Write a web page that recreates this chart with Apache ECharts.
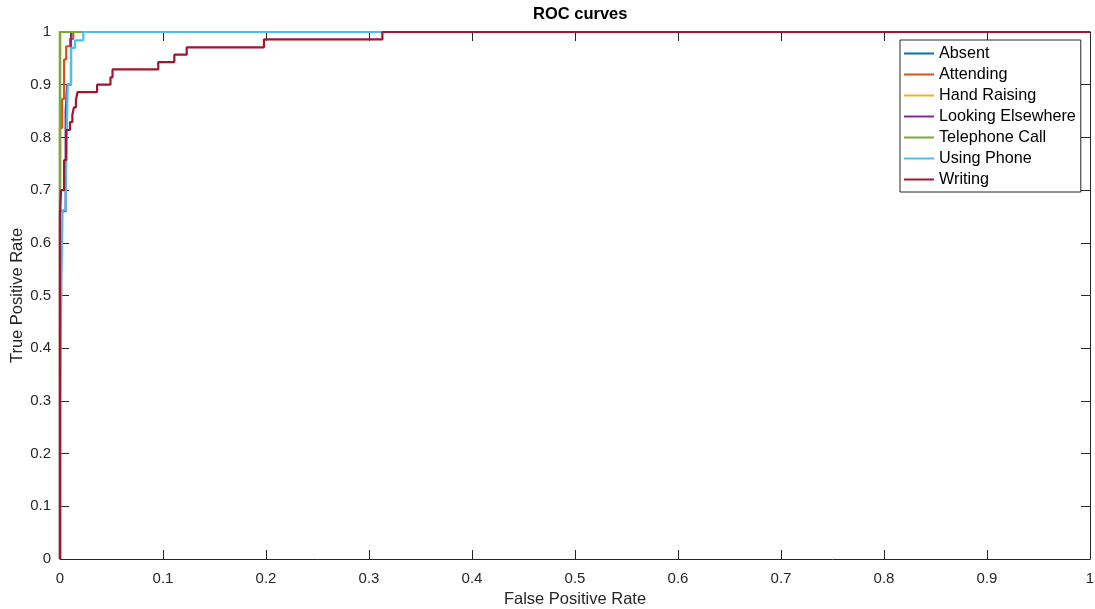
<!DOCTYPE html>
<html>
<head>
<meta charset="utf-8">
<title>ROC curves</title>
<script src="https://cdn.jsdelivr.net/npm/echarts@6/dist/echarts.min.js"></script>
<style>
  html, body { margin: 0; padding: 0; background: #fff; }
  #main { width: 1095px; height: 609px; }
</style>
</head>
<body>
<div id="main"></div>
<script>
// class names in legend order
var classNames = ['Absent', 'Attending', 'Hand Raising', 'Looking Elsewhere', 'Telephone Call', 'Using Phone', 'Writing'];
var classColors = ['#0072BD', '#D95319', '#EDB120', '#7E2F8E', '#77AC30', '#4DBEEE', '#A2142F'];

// ROC points (false positive rate / true positive rate)
var absentFpr = [0, 0, 1];
var absentTpr = [0, 1, 1];

var attendingFpr = [0, 0, 0.002, 0.002, 0.004, 0.004, 0.006, 0.006, 0.0097, 0.0097, 0.0129, 0.0129, 1];
var attendingTpr = [0, 0.818, 0.818, 0.873, 0.873, 0.948, 0.948, 0.973, 0.973, 0.987, 0.987, 1, 1];

var handRaisingFpr = [0, 0, 1];
var handRaisingTpr = [0, 1, 1];

var lookingFpr = [0, 0, 0.0055, 0.0055, 0.007, 0.007, 0.0107, 0.0107, 1];
var lookingTpr = [0, 0.66, 0.66, 0.85, 0.85, 0.9, 0.9, 1, 1];

var telephoneFpr = [0, 0, 1];
var telephoneTpr = [0, 1, 1];

var phoneFpr = [0, 0, 0.0015, 0.0015, 0.0025, 0.0025, 0.0055, 0.0055, 0.0065, 0.0065, 0.0075, 0.0075, 0.0107, 0.0107, 0.0146, 0.0146, 0.0226, 0.0226, 1];
var phoneTpr = [0, 0.30, 0.30, 0.54, 0.54, 0.662, 0.662, 0.678, 0.678, 0.805, 0.805, 0.90, 0.90, 0.97, 0.97, 0.984, 0.984, 1, 1];

var writingFpr = [0, 0, 0.001, 0.001, 0.004, 0.004, 0.006, 0.006, 0.0097, 0.0097, 0.012, 0.012, 0.0135, 0.0135, 0.0155, 0.0155, 0.017, 0.017,
    0.036, 0.036, 0.049, 0.049, 0.051, 0.051, 0.0954, 0.0954, 0.111, 0.111, 0.123, 0.123, 0.198, 0.198, 0.313, 0.313, 1];
var writingTpr = [0, 0.657, 0.657, 0.700, 0.700, 0.757, 0.757, 0.814, 0.814, 0.829, 0.829, 0.843, 0.843, 0.857, 0.857, 0.871, 0.871, 0.886,
    0.886, 0.900, 0.900, 0.914, 0.914, 0.929, 0.929, 0.943, 0.943, 0.957, 0.957, 0.971, 0.971, 0.986, 0.986, 1, 1];

var allFpr = [absentFpr, attendingFpr, handRaisingFpr, lookingFpr, telephoneFpr, phoneFpr, writingFpr];
var allTpr = [absentTpr, attendingTpr, handRaisingTpr, lookingTpr, telephoneTpr, phoneTpr, writingTpr];

function zip(xs, ys) {
    var out = [];
    for (var i = 0; i < xs.length; i++) {
        out.push([xs[i], ys[i]]);
    }
    return out;
}

var chart = echarts.init(document.getElementById('main'), null, { renderer: 'canvas' });

var axisColor = '#262626';
var fontFamily = 'Liberation Sans, Arial, sans-serif';

function valueAxis(pos, showLabels, name) {
    var isY = (pos === 'left' || pos === 'right');
    return {
        type: 'value',
        position: pos,
        min: 0,
        max: 1,
        interval: 0.1,
        name: name || '',
        nameLocation: 'middle',
        nameGap: isY ? 34 : 32,
        nameMoveOverlap: false,
        nameTextStyle: { color: axisColor, fontSize: 16.5, fontFamily: fontFamily },
        axisLine: { show: true, onZero: false, lineStyle: { color: axisColor, width: 1 } },
        axisTick: { show: true, inside: true, length: 9, lineStyle: { color: axisColor, width: 1 } },
        axisLabel: {
            show: showLabels,
            margin: isY ? 9 : 12,
            color: axisColor,
            fontSize: 15,
            fontFamily: fontFamily,
            formatter: function (v) { return String(Math.round(v * 10) / 10); }
        },
        splitLine: { show: false }
    };
}

var series = classNames.map(function (name, i) {
    return {
        name: name,
        type: 'line',
        data: zip(allFpr[i], allTpr[i]),
        showSymbol: false,
        symbol: 'none',
        clip: false,
        color: classColors[i],
        lineStyle: { width: 2.2, color: classColors[i] },
        xAxisIndex: 0,
        yAxisIndex: 0
    };
});

var option = {
    animation: false,
    backgroundColor: '#ffffff',
    title: {
        text: 'ROC curves',
        left: 528,
        top: 1,
        textStyle: { fontSize: 16.5, fontWeight: 'bold', color: '#000', fontFamily: fontFamily }
    },
    grid: { left: 60, right: 5, top: 32, bottom: 50, containLabel: false, outerBoundsMode: 'none' },
    legend: {
        data: classNames,
        orient: 'vertical',
        left: 900,
        top: 40,
        icon: 'rect',
        itemWidth: 30,
        itemHeight: 2,
        itemGap: 0,
        padding: [3, 5, 2, 4],
        backgroundColor: '#fff',
        borderColor: axisColor,
        borderWidth: 1,
        textStyle: { fontSize: 16.2, lineHeight: 21, color: '#000', fontFamily: fontFamily }
    },
    xAxis: [
        valueAxis('bottom', true, 'False Positive Rate'),
        valueAxis('top', false)
    ],
    yAxis: [
        valueAxis('left', true, 'True Positive Rate'),
        valueAxis('right', false)
    ],
    series: series
};

chart.setOption(option);
</script>
</body>
</html>
